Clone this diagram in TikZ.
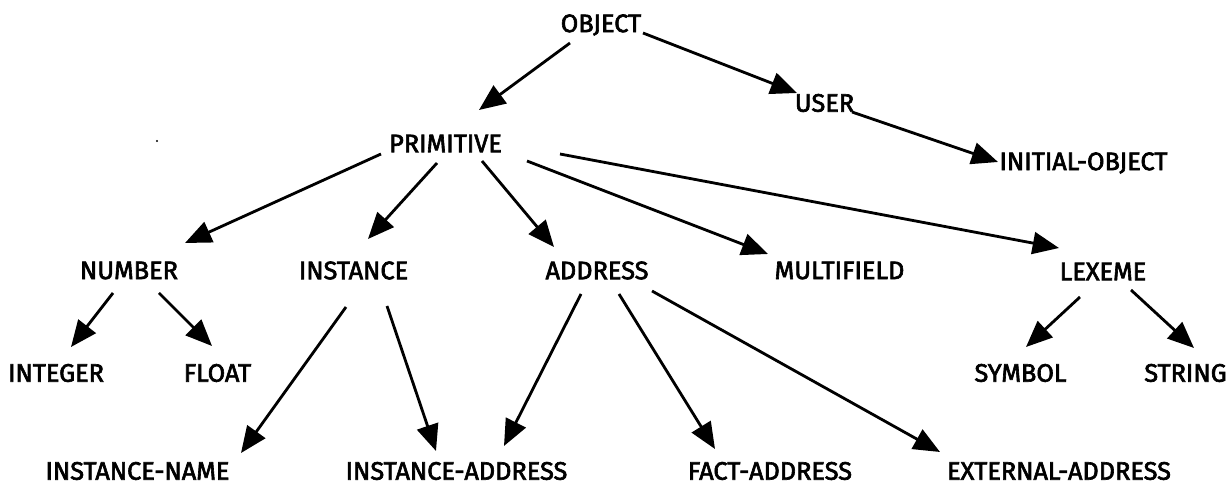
\documentclass[tikz,border=0pt]{standalone}
\usepackage{fontspec}
\setmainfont{Fira Sans}[FakeBold=2.5]
\usetikzlibrary{arrows.meta,calc}
\tikzset{
  type/.style={inner sep=0pt, font=\fontsize{14.4}{16}\selectfont},
  isa/.style={-{Triangle[length=15pt,width=12.5pt]}, line width=1.6pt},
}
\begin{document}
\begin{tikzpicture}[x=0.02cm,y=-0.02cm]
\useasboundingbox (0,0) rectangle (1232,486);
% types
\node[type] (object) at (601,25) {OBJECT};
\node[type] (user) at (824.5,103) {USER};
\node[type] (initobj) at (1083.5,163) {INITIAL-OBJECT};
\node[type] (primitive) at (445.5,143.5) {PRIMITIVE};
\node[type] (number) at (129,270.5) {NUMBER};
\node[type] (instance) at (353.5,270.5) {INSTANCE};
\node[type] (address) at (597,270.5) {ADDRESS};
\node[type] (multifield) at (839.5,270.5) {MULTIFIELD};
\node[type] (lexeme) at (1103,271.5) {LEXEME};
\node[type] (integer) at (56,373) {INTEGER};
\node[type] (float) at (217.5,373) {FLOAT};
\node[type] (symbol) at (1020.5,373) {SYMBOL};
\node[type] (string) at (1185.5,373) {STRING};
\node[type] (instname) at (137.5,471) {INSTANCE-NAME};
\node[type] (instaddr) at (456.5,471) {INSTANCE-ADDRESS};
\node[type] (factaddr) at (770,471) {FACT-ADDRESS};
\node[type] (extaddr) at (1059,471) {EXTERNAL-ADDRESS};
\fill (157,141) circle (1.2);
% is-a links
\draw[isa] ($(object)+(-31,18)$) -- ($(primitive)+(33.5,-33.5)$);
\draw[isa] ($(object)+(42,8)$) -- ($(user)+(-27.5,-10)$);
\draw[isa] ($(user)+(27.5,9)$) -- ($(initobj)+(-85.5,-1)$);
\draw[isa] ($(primitive)+(-64.5,10.5)$) -- ($(number)+(56,-27.5)$);
\draw[isa] ($(primitive)+(-8.5,19.5)$) -- ($(instance)+(14.5,-31.5)$);
\draw[isa] ($(primitive)+(36.5,17.5)$) -- ($(address)+(-43,-23.5)$);
\draw[isa] ($(primitive)+(81.5,17.5)$) -- ($(multifield)+(-71.5,-16.5)$);
\draw[isa] ($(primitive)+(114.5,10.5)$) -- ($(lexeme)+(-44,-23.5)$);
\draw[isa] ($(number)+(-16,22.5)$) -- ($(integer)+(15,-26)$);
\draw[isa] ($(number)+(30,22.5)$) -- ($(float)+(-5.5,-27)$);
\draw[isa] ($(instance)+(-7.5,36.5)$) -- ($(instname)+(103.5,-18)$);
\draw[isa] ($(instance)+(33.5,35.5)$) -- ($(instaddr)+(-20.5,-20)$);
\draw[isa] ($(address)+(-16,23.5)$) -- ($(instaddr)+(47.5,-25)$);
\draw[isa] ($(address)+(22,23.5)$) -- ($(factaddr)+(-55,-22)$);
\draw[isa] ($(address)+(55,20.5)$) -- ($(extaddr)+(-119,-19)$);
\draw[isa] ($(lexeme)+(-23,25.5)$) -- ($(symbol)+(5.5,-26)$);
\draw[isa] ($(lexeme)+(28,18.5)$) -- ($(string)+(8.5,-25)$);
\end{tikzpicture}
\end{document}
